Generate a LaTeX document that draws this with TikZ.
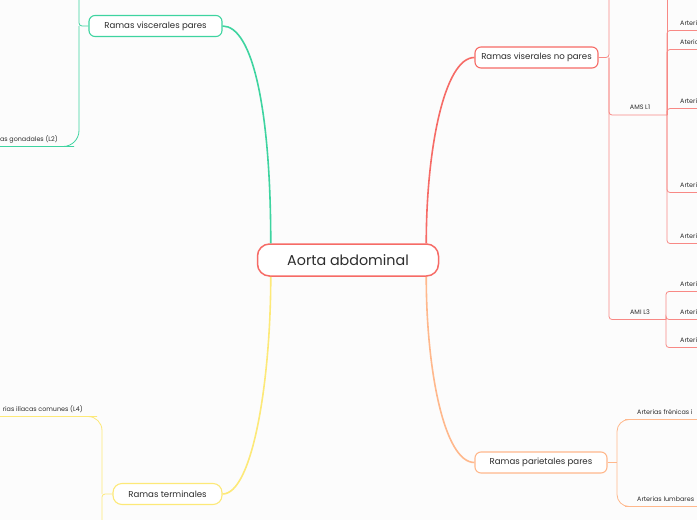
\documentclass[tikz,border=0pt]{standalone}
\usepackage{fontspec}
\setmainfont{Poppins}
\definecolor{mmred}{RGB}{246,107,102}
\definecolor{mmgreen}{RGB}{62,212,160}
\definecolor{mmyellow}{RGB}{253,233,120}
\definecolor{mmorange}{RGB}{255,184,140}
\definecolor{mmtext}{RGB}{45,45,45}
\definecolor{mmbg}{RGB}{252,252,252}
\begin{document}
\begin{tikzpicture}[x=1pt,y=-1pt,
  topic/.style={draw,line width=1.1pt,rounded corners=6pt,fill=white,text=mmtext,font=\fontsize{8.6}{10}\selectfont,minimum height=21pt,inner sep=0pt},
  leaf/.style={text=mmtext,font=\fontsize{6.4}{7}\selectfont,inner sep=0pt},
  branch/.style={line width=1.6pt},
  twig/.style={line width=.8pt,rounded corners=3pt}]
  \useasboundingbox[fill=mmbg] (0,0) rectangle (697,520);
  \clip (0,0) rectangle (697,520);

  \node[topic,draw=mmred,line width=1.5pt,rounded corners=12pt,minimum width=181pt,minimum height=32pt,font=\fontsize{14.3}{16}\selectfont] (aorta) at (348,260) {Aorta abdominal};
  \node[topic,draw=mmgreen,minimum width=133pt] (vpares) at (155.5,26) {Ramas viscerales pares};
  \node[topic,draw=mmred,minimum width=123pt] (vnopares) at (536.5,57.5) {Ramas viserales no pares};
  \node[topic,draw=mmorange,minimum width=132pt] (parietales) at (541,462.5) {Ramas parietales pares};
  \node[topic,draw=mmyellow,minimum width=109pt,rounded corners=9pt] (terminales) at (167.5,494) {Ramas terminales};

  \draw[branch,mmgreen] ([xshift=14pt]aorta.north west) .. controls +(0,-134) and +(30,0) .. (vpares.east);
  \draw[branch,mmred] ([xshift=-13pt]aorta.north east) .. controls +(0,-94) and +(-30,0) .. (vnopares.west);
  \draw[branch,mmorange] ([xshift=-13pt]aorta.south east) .. controls +(0,94) and +(-30,0) .. (parietales.west);
  \draw[branch,mmyellow] ([xshift=14pt]aorta.south west) .. controls +(0,104) and +(30,0) .. (terminales.east);

  \coordinate (jvnp) at (609,57.5);
  \coordinate (jams) at (667,115);
  \coordinate (jami) at (666,319.5);
  \draw[twig,mmred!80] (vnopares.east) -- (jvnp) -- (609,-10);
  \draw[twig,mmred!80] (jvnp) |- (jams);
  \draw[twig,mmred!80] (jvnp) |- (jami);
  \draw[twig,mmred!80] (jams) -- (667,-10);
  \node[leaf,anchor=base] (ams) at (640,109.5) {AMS L1};
  \node[leaf,anchor=base] (ami) at (640,314) {AMI L3};
  \foreach \n/\y/\t in {a/25/Arteri,b/44/Ateria,c/103/Arteri,d/187/Arteri,e/238/Arteri}{
    \node[leaf,anchor=base west] (ams\n) at (680,\y) {\t};
    \draw[twig,mmred!80] (jams) |- ([yshift=-5.5pt]ams\n.base west) -- ++(30,0);
  }
  \foreach \n/\y in {a/286,b/314,c/342}{
    \node[leaf,anchor=base west] (ami\n) at (680,\y) {Arteri};
    \draw[twig,mmred!80] (jami) |- ([yshift=-5.5pt]ami\n.base west) -- ++(30,0);
  }

  \coordinate (jpar) at (617,462.5);
  \draw[twig,mmorange] (parietales.east) -- (jpar);
  \node[leaf,anchor=base west] (fren) at (637,414) {Arterias frénicas i};
  \node[leaf,anchor=base west] (lumb) at (637,501) {Arterias lumbares};
  \draw[twig,mmorange,rounded corners=12pt] (jpar) |- ([yshift=-5.5pt]fren.base west) -- ++(80,0);
  \draw[twig,mmorange,rounded corners=12pt] (jpar) |- ([yshift=-5.5pt]lumb.base west) -- ++(80,0);

  \coordinate (jvp) at (79,26);
  \draw[twig,mmgreen] (vpares.west) -- (jvp) -- (79,-10);
  \node[leaf,anchor=base east] (gonad) at (58,141) {as gonadales (L2)};
  \draw[twig,mmgreen,rounded corners=16pt] (jvp) |- ([yshift=-5.5pt]gonad.base east) -- ++(-80,0);

  \coordinate (jter) at (102,494);
  \draw[twig,mmyellow] (terminales.west) -- (jter) -- (102,530);
  \node[leaf,anchor=base east] (iliac) at (83,411) {rias ilíacas comunes (L4)};
  \draw[twig,mmyellow,rounded corners=14pt] (jter) |- ([yshift=-5.5pt]iliac.base east) -- ++(-100,0);
\end{tikzpicture}
\end{document}
